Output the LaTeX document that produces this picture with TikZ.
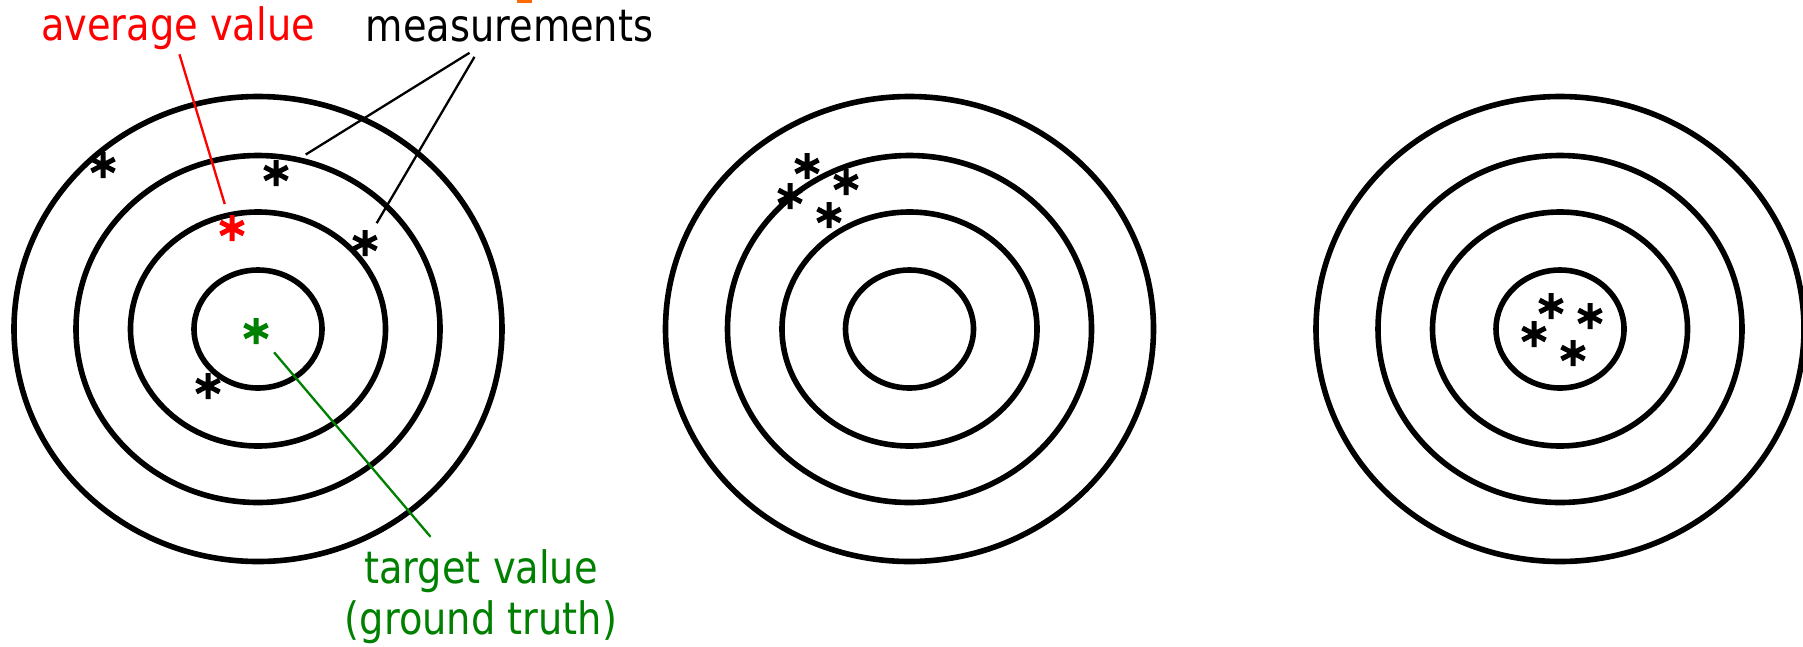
\documentclass[tikz,border=0pt]{standalone}
\usepackage{fontspec}
\setmainfont{DejaVu Sans}[FakeStretch=0.86]
\usepackage{tikz}
\definecolor{tgAvg}{HTML}{FF0000}
\definecolor{tgTruth}{HTML}{008000}
\definecolor{tgCut}{HTML}{FF6A00}
\tikzset{
  ring/.style={draw=black, line width=5.6pt},
  meas/.style={circle, minimum size=26pt, inner sep=0pt, outer sep=0pt},
  starline/.style={line width=5pt},
  lbl/.style={inner sep=0pt, font=\fontsize{44.6pt}{51pt}\selectfont},
  pointer/.style={line width=2.3pt}
}

\begin{document}
\begin{tikzpicture}[x=1pt, y=-1pt]
  \useasboundingbox (0,0) rectangle (1803,646);
  % three targets, four rings each
  \foreach \cx in {258, 909.5, 1560}
    \foreach \rx/\ry in {244/232.5, 182/173.5, 127.5/117, 64/59}
      \draw[ring] (\cx,329) ellipse [x radius=\rx, y radius=\ry];
  \fill[tgCut] (517,0) rectangle (532,3);

  % labels
  \node[lbl, text=tgAvg, anchor=base] (avglbl) at (178,40) {average value};
  \node[lbl, anchor=base] (measlbl) at (509.5,41) {measurements};
  \node[lbl, text=tgTruth, align=center, anchor=north] (truthlbl) at (481,549) {target value\\(ground truth)};

  % hits
  \node[meas] (m1) at (103,165) {};
  \node[meas] (m2) at (276,173) {};
  \node[meas] (m3) at (365,243) {};
  \node[meas] (m4) at (208,386) {};
  \node[meas] (avg) at (232,228) {};
  \node[meas] (truth) at (256,331) {};
  \node[meas] (b1) at (807,166) {};
  \node[meas] (b2) at (790,196) {};
  \node[meas] (b3) at (846,182) {};
  \node[meas] (b4) at (829,215) {};
  \node[meas] (c1) at (1551,306) {};
  \node[meas] (c2) at (1590,316) {};
  \node[meas] (c3) at (1534,334) {};
  \node[meas] (c4) at (1573,353) {};
  \foreach \s/\c in {m1/black, m2/black, m3/black, m4/black, avg/tgAvg, truth/tgTruth,
                     b1/black, b2/black, b3/black, b4/black, c1/black, c2/black, c3/black, c4/black}
    \draw[starline, \c] (\s.90) -- (\s.270) (\s.27) -- (\s.207) (\s.153) -- (\s.333);

  \draw[pointer, tgAvg, shorten <=5pt, shorten >=12pt] (avglbl.south) -- (avg);
  \draw[pointer, shorten >=22pt] ([xshift=-40pt, yshift=-11pt]measlbl.south) -- (m2);
  \draw[pointer, shorten >=10pt] ([xshift=-35pt, yshift=-15pt]measlbl.south) -- (m3);
  \draw[pointer, tgTruth, shorten <=15pt, shorten >=16pt] (truth) -- (truthlbl);
\end{tikzpicture}
\end{document}
